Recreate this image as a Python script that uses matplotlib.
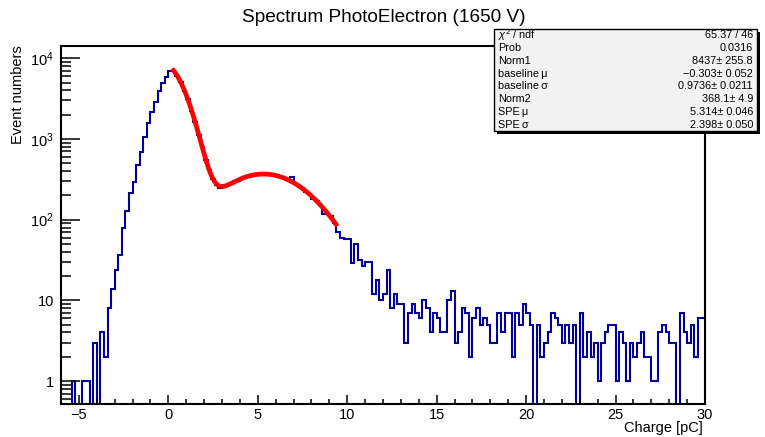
import numpy as np
import matplotlib
matplotlib.use("Agg")
import matplotlib.pyplot as plt
from matplotlib.patches import Rectangle
from matplotlib.ticker import FixedLocator, LogLocator, MultipleLocator, NullFormatter

plt.rcParams.update({
    "font.family": ["Liberation Sans", "DejaVu Sans"],
    "mathtext.fontset": "custom",
    "mathtext.rm": "Liberation Sans",
    "mathtext.it": "Liberation Sans:italic",
    "mathtext.sf": "Liberation Sans",
})

# charge histogram: 180 bins of 0.2 pC from -6 to 30 pC
X_LO, X_HI, N_BINS = -6.0, 30.0, 180
counts = [
    0, 0, 0, 1, 0, 0, 1, 1, 0, 3,
    0, 4, 2, 8, 14, 24, 36, 78, 129, 215,
    295, 475, 695, 1047, 1590, 2175, 2890, 3960, 4890, 5900,
    7000, 7050, 6000, 5050, 3980, 3100, 2240, 1640, 1120, 800,
    545, 410, 315, 272, 245, 262, 270, 276, 300, 305,
    322, 340, 345, 352, 366, 372, 365, 370, 360, 356,
    350, 336, 330, 318, 338, 280, 262, 248, 222, 210,
    182, 172, 150, 118, 118, 110, 90, 71, 60, 58,
    57, 29, 50, 32, 27, 30, 30, 12, 18, 10,
    12, 24, 8, 12, 9, 9, 3, 7, 9, 7,
    6, 10, 8, 4, 7, 6, 4, 4, 10, 13,
    3, 4, 8, 7, 2, 6, 8, 5, 6, 5,
    3, 3, 7, 4, 7, 7, 2, 7, 5, 9,
    7, 5, 0, 5, 2, 3, 4, 7, 6, 5,
    3, 5, 3, 5, 0, 7, 2, 4, 2, 3,
    1, 3, 4, 5, 5, 1, 4, 3, 1, 3,
    2, 3, 4, 2, 2, 1, 1, 4, 5, 4,
    3, 3, 0, 7, 4, 3, 5, 2, 6, 6,
]

# double-gaussian fit result
fit_names = ["Norm1", "baseline\u2009\u03bc", "baseline\u2009\u03c3", "Norm2", "SPE\u2009\u03bc", "SPE\u2009\u03c3"]
fit_values = [8437, -0.303, 0.9736, 368.1, 5.314, 2.398]
fit_errors = ["255.8", "0.052", "0.0211", "4.9", "0.046", "0.050"]
fit_labels = ["8437", "\u22120.303", "0.9736", "368.1", "5.314", "2.398"]
fit_range = (0.2, 9.45)
chi2, ndf, prob = 65.37, 46, 0.0316

W, H = 765, 437
fig = plt.figure(figsize=(W / 100, H / 100), dpi=100)
ax = fig.add_axes([61 / W, 1 - 404 / H, (705 - 61) / W, (404 - 46) / H])

edges = np.linspace(X_LO, X_HI, N_BINS + 1)
vals = np.asarray(counts, dtype=float)
vals = np.where(vals > 0, vals, 1e-3)
ax.stairs(vals, edges, color="#000099", lw=1.5, baseline=None)

n1, m1, s1, n2, m2, s2 = fit_values
xf = np.linspace(fit_range[0], fit_range[1], 400)
yf = n1 * np.exp(-0.5 * ((xf - m1) / s1) ** 2) + n2 * np.exp(-0.5 * ((xf - m2) / s2) ** 2)
ax.plot(xf, yf, color="#ff0000", lw=3.4, solid_capstyle="butt", zorder=3)

ax.set_xlim(X_LO, X_HI)
ax.set_yscale("log")
ax.set_ylim(0.52, 14200)

ax.xaxis.set_major_locator(MultipleLocator(5))
ax.xaxis.set_minor_locator(MultipleLocator(1))
ax.yaxis.set_major_locator(FixedLocator([1, 10, 100, 1000, 10000]))
ax.yaxis.set_minor_locator(LogLocator(base=10, subs=np.arange(2, 10), numticks=30))
ax.yaxis.set_minor_formatter(NullFormatter())
ax.set_yticklabels(["1", "10", r"$10^{2}$", r"$10^{3}$", r"$10^{4}$"])
xt = np.arange(-5, 31, 5)
ax.set_xticks(xt)
ax.set_xticklabels([str(v).replace("-", "\u2212") for v in xt])

ax.tick_params(axis="both", which="both", direction="in", top=False, right=False,
               width=1.1, labelsize=10.5, colors="black")
ax.tick_params(axis="x", which="major", length=6.5, pad=3)
ax.tick_params(axis="x", which="minor", length=3.3)
ax.tick_params(axis="y", which="major", length=13.5, pad=5)
ax.tick_params(axis="y", which="minor", length=7)
for sp in ax.spines.values():
    sp.set_linewidth(1.5)

fig.text(384 / W, 1 - 18 / H, "Spectrum PhotoElectron (1650 V)", ha="center", va="center", fontsize=13.7)
fig.text(703 / W, 1 - 428 / H, "Charge [pC]", ha="right", va="center", fontsize=10.5)
fig.text(18 / W, 1 - 45 / H, "Event numbers", ha="center", va="top", rotation=90, fontsize=10.5)

# statistics box with drop shadow
bx0, bx1, by0, by1 = 494, 757, 29, 131
sh = 3
fig.patches.append(Rectangle(((bx0 + sh) / W, 1 - (by1 + sh) / H), (bx1 - bx0) / W, (by1 - by0) / H,
                             transform=fig.transFigure, facecolor="black", edgecolor="none", zorder=5))
fig.patches.append(Rectangle((bx0 / W, 1 - by1 / H), (bx1 - bx0) / W, (by1 - by0) / H,
                             transform=fig.transFigure, facecolor="#f2f2f2", edgecolor="black",
                             lw=1.0, zorder=6))

rows = [(r"$\chi^{2}$ / ndf", f"{chi2:.2f} / {ndf}"), ("Prob", f"{prob:.4f}")]
for name, lab, err in zip(fit_names, fit_labels, fit_errors):
    rows.append((name, f"{lab}\u00b1 {err}"))
row_h = (by1 - by0) / len(rows)
for k, (left, right) in enumerate(rows):
    yc = 1 - (by0 + row_h * (k + 0.5)) / H
    fig.text((bx0 + 4) / W, yc, left, ha="left", va="center", fontsize=7.8, zorder=7)
    fig.text((bx1 - 4) / W, yc, right, ha="right", va="center", fontsize=7.8, zorder=7)

fig.savefig("out.png", dpi=100)
